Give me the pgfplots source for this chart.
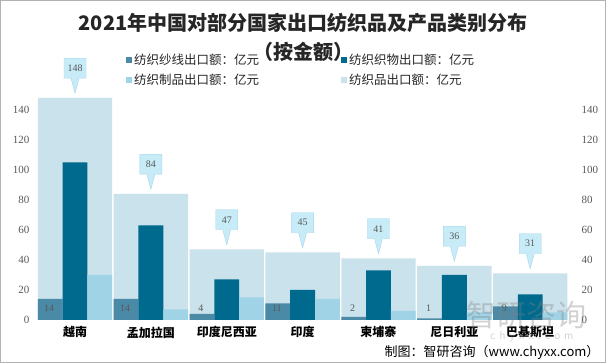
\documentclass[border=0pt]{standalone}
\usepackage{pgfplots}
\pgfplotsset{compat=1.18}
\usepackage{pgfplotstable}
\usepackage{fontspec}
\usetikzlibrary{shapes.callouts}
\setmainfont{Liberation Serif}
\newfontfamily\cjk{Noto Sans CJK SC}
\definecolor{yarn}{HTML}{4B8AA6}
\definecolor{fabric}{HTML}{006A8E}
\definecolor{prod}{HTML}{A0D3E6}
\definecolor{total}{HTML}{CAE2EC}
\definecolor{callfill}{HTML}{C8EBF8}
\definecolor{calldraw}{HTML}{A6D6EA}
\definecolor{ticktext}{HTML}{595959}
\pgfplotstableread{
x total yarn fabric prod
0 148 14 105 30
1 84 14 63 7
2 47 4 27 15
3 45 11 20 14
4 41 2 33 6
5 36 1 30 5
6 31 9 17 5
}\data
\begin{document}
\begin{tikzpicture}
\useasboundingbox (0,0) rectangle (606pt,363pt);
\fill[white] (0,0) rectangle (606pt,363pt);
\begin{axis}[
  at={(33pt,43pt)}, anchor=south west,
  scale only axis, width=545pt, height=225pt,
  xmin=-0.554, xmax=6.63, ymin=0, ymax=150,
  axis line style={draw=none},
  major tick length=0pt,
  xtick={0,...,6},
  xticklabels={越南,孟加拉国,印度尼西亚,印度,柬埔寨,尼日利亚,巴基斯坦},
  xticklabel style={font=\cjk\bfseries\fontsize{12}{14}\selectfont, text=black, yshift=-3pt},
  ytick={0,20,...,140},
  yticklabel style={font=\fontsize{11}{13}\selectfont, text=ticktext},
  /pgf/number format/assume math mode=true,
  clip=false,
  legend style={at={(0.165,1.20)}, anchor=north west, draw=none, fill=none,
    font=\cjk\fontsize{12.5}{15}\selectfont, text=black!85,
    /tikz/every even column/.append style={column sep=80pt}, row sep=4pt},
  legend columns=2,
  legend cell align=left,
  legend image code/.code={\fill[#1] (0pt,-3pt) rectangle (6pt,3pt);},
]
\addplot[ybar, bar width=0.98, bar shift=0, fill=total, draw=none, forget plot,
  nodes near coords,
  every node near coord/.append style={shape=rectangle callout, fill=callfill, draw=calldraw,
    minimum width=22pt, minimum height=20pt, inner sep=1pt,
    callout relative pointer={(canvas cs:x=0pt,y=-15pt)}, callout pointer width=8pt,
    anchor=pointer, yshift=4pt, font=\fontsize{10}{12}\selectfont, text=ticktext}
] table[x=x,y=total]{\data};
\addplot[ybar, bar width=0.327, bar shift=-0.327, fill=yarn, draw=none] table[x=x,y=yarn]{\data};
\addlegendentry{纺织纱线出口额：亿元}
\addplot[ybar, bar width=0.327, bar shift=0, fill=fabric, draw=none] table[x=x,y=fabric]{\data};
\addlegendentry{纺织织物出口额：亿元}
\addplot[ybar, bar width=0.327, bar shift=0.327, fill=prod, draw=none] table[x=x,y=prod]{\data};
\addlegendentry{纺织制品出口额：亿元}
\addlegendimage{fill=total, draw=none}
\addlegendentry{纺织品出口额：亿元}
\addplot[draw=none, mark=none, forget plot, nodes near coords, point meta=explicit,
  every node near coord/.append style={anchor=center, font=\fontsize{10}{12}\selectfont, text=ticktext}]
  coordinates {(-0.34,8) [14] (0.66,8) [14] (1.66,8) [4] (2.66,8) [11] (3.66,8) [2] (4.66,8) [1] (5.66,8) [9]};
\end{axis}
\begin{axis}[
  at={(33pt,43pt)}, anchor=south west,
  scale only axis, width=545pt, height=225pt,
  xmin=-0.554, xmax=6.63, ymin=0, ymax=150,
  axis y line*=right, hide x axis,
  y axis line style={draw=none},
  major tick length=0pt,
  ytick={0,20,...,140},
  yticklabel style={font=\fontsize{11}{13}\selectfont, text=ticktext},
  /pgf/number format/assume math mode=true,
]
\addplot[draw=none, mark=none] coordinates {(0,0)};
\end{axis}
\node[font=\cjk\bfseries\fontsize{20}{24}\selectfont, text=black!85] at (303pt,340pt) {2021年中国对部分国家出口纺织品及产品类别分布};
\node[font=\cjk\bfseries\fontsize{20}{24}\selectfont, text=black!85] at (303pt,311pt) {（按金额）};
\node[font=\cjk\fontsize{30}{32}\selectfont, text=gray, opacity=0.35] at (526pt,48pt) {智研咨询};
\node[font=\fontsize{12}{14}\selectfont\sffamily, text=gray, opacity=0.35] at (532pt,26pt) {c\,\,h\,\,y\,\,x\,\,x\,\,.\,\,c\,\,o\,\,m};
\node[anchor=east, font=\cjk\fontsize{13}{15}\selectfont, text=black] at (603pt,11pt) {制图：智研咨询（www.chyxx.com）};
\draw[gray!60] (0.5pt,0.5pt) rectangle (605.5pt,362.5pt);
\end{tikzpicture}
\end{document}
